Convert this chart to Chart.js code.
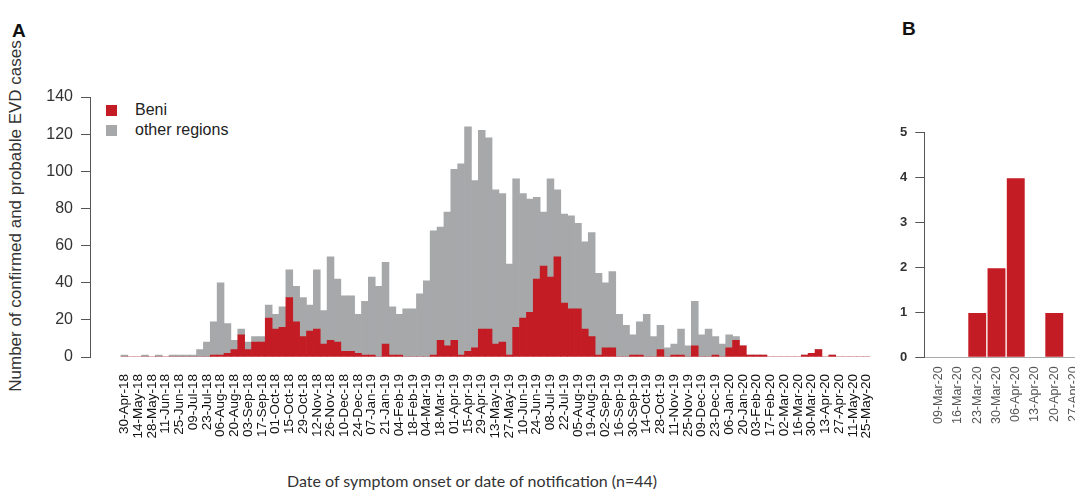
<!DOCTYPE html>
<html>
<head>
<meta charset="utf-8">
<script src="https://cdn.jsdelivr.net/npm/chart.js@4.4.0/dist/chart.umd.min.js"></script>
<style>
  html, body { margin: 0; padding: 0; width: 1075px; height: 492px; overflow: hidden; background: #fff; }
  body { position: relative; font-family: "Liberation Sans", Arial, sans-serif; }
  .panel { position: absolute; top: 0; }
  .tag { position: absolute; font-weight: bold; font-size: 19px; color: #111; }
  #ytitle { position: absolute; left: -184px; top: 206px; width: 400px; text-align: center;
            font-size: 17px; color: #333; transform: rotate(-90deg); line-height: 20px; }
  #xtitle { position: absolute; left: 222px; top: 471px; width: 500px; text-align: center;
            font-family: Lato, "Open Sans", sans-serif; font-size: 16px; color: #333; }
  .leg { position: absolute; left: 106px; font-size: 16px; color: #222; }
  .leg span { display: inline-block; width: 11px; height: 11px; margin-right: 18px; vertical-align: -1px; }
</style>
</head>
<body>
<div class="tag" style="left:12px; top:20px;">A</div>
<div class="tag" style="left:902px; top:18px;">B</div>
<div id="ytitle">Number of confirmed and probable EVD cases</div>
<div id="xtitle">Date of symptom onset or date of notification (n=44)</div>
<div class="leg" style="top:101px;"><span style="background:#c41c24"></span>Beni</div>
<div class="leg" style="top:121px;"><span style="background:#a6a8aa"></span>other regions</div>

<div class="panel" style="left:0;"><canvas id="chartA" width="900" height="492"></canvas></div>
<div class="panel" style="left:860px;"><canvas id="chartB" width="260" height="492"></canvas></div>

<script>
// week ticks shown every second week (first week = 30-Apr-18)
const tickLabels = ['30-Apr-18','14-May-18','28-May-18','11-Jun-18','25-Jun-18','09-Jul-18','23-Jul-18',
  '06-Aug-18','20-Aug-18','03-Sep-18','17-Sep-18','01-Oct-18','15-Oct-18','29-Oct-18','12-Nov-18',
  '26-Nov-18','10-Dec-18','24-Dec-18','07-Jan-19','21-Jan-19','04-Feb-19','18-Feb-19','04-Mar-19',
  '18-Mar-19','01-Apr-19','15-Apr-19','29-Apr-19','13-May-19','27-May-19','10-Jun-19','24-Jun-19',
  '08-Jul-19','22-Jul-19','05-Aug-19','19-Aug-19','02-Sep-19','16-Sep-19','30-Sep-19','14-Oct-19',
  '28-Oct-19','11-Nov-19','25-Nov-19','09-Dec-19','23-Dec-19','06-Jan-20','20-Jan-20','03-Feb-20',
  '17-Feb-20','02-Mar-20','16-Mar-20','30-Mar-20','13-Apr-20','27-Apr-20','11-May-20','25-May-20'];

// weekly cases, one value per week
const beniCases = [
  0,0,0,0,0,0,0,0,0,0,
  0,0,0,1,1,2,4,12,4,8,
  8,21,15,16,32,19,11,14,15,7,
  9,8,3,3,2,1,1,0,7,1,
  1,0,0,0,0,1,9,6,9,1,
  3,5,15,15,7,8,1,16,21,24,
  42,49,43,54,29,26,26,15,11,1,
  5,5,0,0,1,1,0,0,4,0,
  1,1,0,6,0,0,1,0,5,9,
  6,1,1,1,0,0,0,0,0,1,
  2,4,0,1,0,0,0,0,0];
const otherCases = [
  1,0,0,1,0,1,0,1,1,1,
  1,4,8,18,39,16,5,3,4,3,
  3,7,8,11,15,19,21,14,32,18,
  45,34,30,30,21,29,42,38,44,26,
  22,26,26,34,41,67,61,72,92,103,
  121,90,107,103,83,80,49,80,67,61,
  44,29,53,36,48,50,46,47,56,44,
  35,41,23,17,11,18,23,11,13,5,
  6,14,6,24,12,15,10,7,7,2,
  0,0,0,0,0,0,0,0,0,0,
  0,0,0,0,0,0,0,0,0];

// panel B: Beni, spring 2020
const bLabels = ['09-Mar-20','16-Mar-20','23-Mar-20','30-Mar-20','06-Apr-20','13-Apr-20','20-Apr-20','27-Apr-20'];
const bCases = [0,0,1,2,4,0,1,0];

const red = '#c41c24';
const grey = '#a6a8aa';
const axisCol = '#555';

Chart.defaults.font.family = '"Liberation Sans", Arial, sans-serif';
Chart.defaults.animation = false;

new Chart(document.getElementById('chartA'), {
  type: 'bar',
  data: {
    datasets: [
      { label: 'Beni', data: beniCases.map((v, i) => ({ x: i, y: v })), backgroundColor: red,
        borderWidth: 0, barPercentage: 1, categoryPercentage: 1 },
      { label: 'other regions', data: otherCases.map((v, i) => ({ x: i, y: v })), backgroundColor: grey,
        borderWidth: 0, barPercentage: 1, categoryPercentage: 1 }
    ]
  },
  options: {
    responsive: false,
    devicePixelRatio: 1,
    layout: { padding: { left: 0, top: 97, right: 11.4, bottom: 0 } },
    plugins: { legend: { display: false }, tooltip: { enabled: false } },
    scales: {
      x: {
        type: 'linear', stacked: true, min: -5, max: 110, offset: false,
        grid: { display: false, drawTicks: false },
        border: { display: false },
        afterBuildTicks: axis => { axis.ticks = tickLabels.map((t, k) => ({ value: 2 * k })); },
        afterFit: axis => { axis.height = 135; },
        ticks: {
          autoSkip: false, maxRotation: 90, minRotation: 90, padding: 17,
          font: { size: 13.5 }, color: '#111',
          callback: (v, idx) => tickLabels[idx]
        }
      },
      y: {
        stacked: true, min: 0, max: 140,
        grid: { display: true, drawOnChartArea: false, drawTicks: true, tickLength: 9, color: axisCol },
        border: { display: true, color: axisCol, width: 1 },
        afterFit: axis => { axis.width = 90; },
        ticks: { stepSize: 20, padding: 8, font: { size: 16 }, color: '#333' }
      }
    }
  }
});

new Chart(document.getElementById('chartB'), {
  type: 'bar',
  data: {
    datasets: [
      { label: 'Beni', data: bCases.map((v, i) => ({ x: i, y: v })), backgroundColor: red,
        borderColor: 'rgba(255,255,255,0.45)', borderWidth: 1, barPercentage: 1, categoryPercentage: 1 }
    ]
  },
  options: {
    responsive: false,
    devicePixelRatio: 1,
    layout: { padding: { left: 0, top: 132.7, right: 17.6, bottom: 0 } },
    plugins: { legend: { display: false }, tooltip: { enabled: false } },
    scales: {
      x: {
        type: 'linear', min: -0.75, max: 8.5, offset: false,
        grid: { display: false, drawTicks: false },
        border: { display: true, color: '#aaa', width: 1 },
        afterBuildTicks: axis => { axis.ticks = bLabels.map((t, k) => ({ value: k })); },
        afterFit: axis => { axis.height = 134.7; },
        ticks: {
          autoSkip: false, maxRotation: 90, minRotation: 90, padding: 9,
          font: { size: 12.5 }, color: '#555',
          callback: (v, idx) => bLabels[idx]
        }
      },
      y: {
        min: 0, max: 5,
        grid: { display: true, drawOnChartArea: false, drawTicks: true, tickLength: 9, color: axisCol },
        border: { display: true, color: axisCol, width: 1 },
        afterFit: axis => { axis.width = 64.3; },
        ticks: { stepSize: 1, padding: 8, font: { size: 13, weight: 'bold' }, color: '#333' }
      }
    }
  }
});
</script>
</body>
</html>
